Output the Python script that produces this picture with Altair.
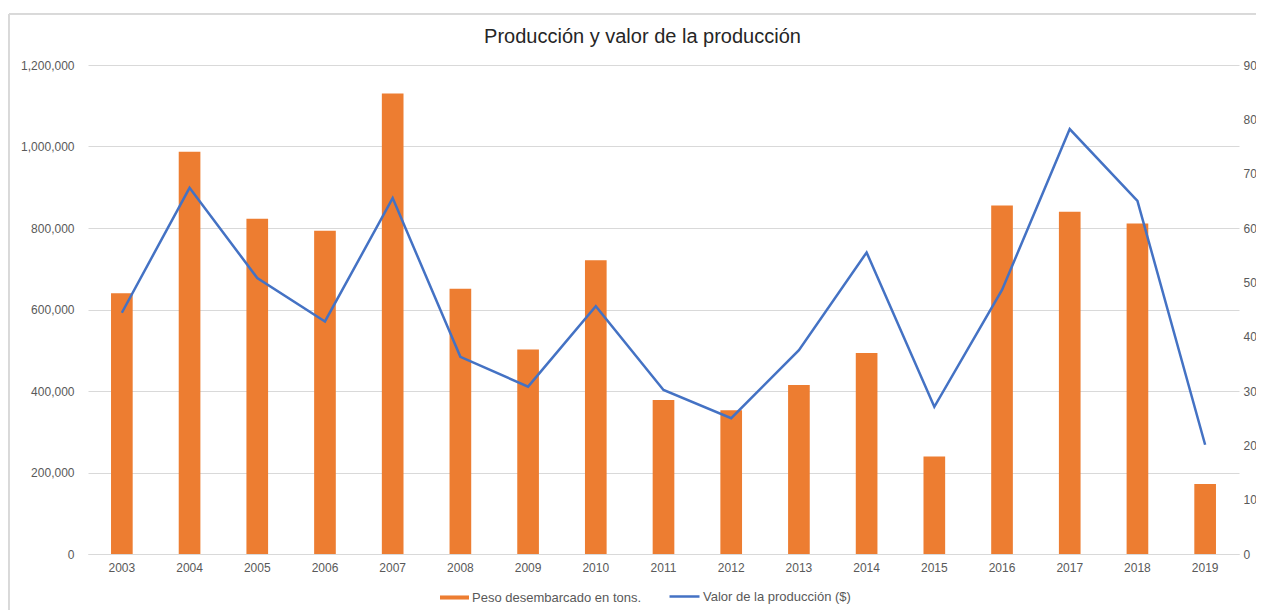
import altair as alt
import pandas as pd

years = [str(y) for y in range(2003, 2020)]
peso = [640000, 987000, 823000, 793000, 1130000, 651000, 502000, 721000, 378000,
        353000, 415000, 493000, 239000, 855000, 840000, 811000, 172000]
valor = [44.4, 67.4, 50.8, 42.8, 65.5, 36.3, 30.8, 45.6, 30.2,
         25.0, 37.5, 55.5, 27.1, 48.6, 78.2, 65.0, 20.1]

SERIE_BAR = "Peso desembarcado en tons."
SERIE_LINE = "Valor de la producción ($)"

df = pd.DataFrame({"year": years, "peso": peso, "valor": valor,
                   "s1": SERIE_BAR, "s2": SERIE_LINE})

FONT = "Liberation Sans"
LABEL_COLOR = "#595959"
GRID = "#D9D9D9"

xenc = alt.X("year:N", title=None,
             scale=alt.Scale(paddingInner=0.68, paddingOuter=0.34),
             axis=alt.Axis(labelAngle=0, ticks=False, domain=True, domainColor=GRID,
                           labelPadding=8, labelFontSize=12, labelColor=LABEL_COLOR,
                           labelFont=FONT, grid=False))

base = alt.Chart(df)

bars = base.mark_bar(color="#ED7D31").encode(
    x=xenc,
    y=alt.Y("peso:Q", title=None,
            scale=alt.Scale(domain=[0, 1200000], nice=False),
            axis=alt.Axis(orient="left", values=[0, 200000, 400000, 600000, 800000, 1000000, 1200000],
                          format=",.0f", ticks=False, domain=False, gridColor=GRID,
                          labelPadding=14, labelFontSize=12, labelColor=LABEL_COLOR,
                          labelFont=FONT)),
    fill=alt.Fill("s1:N", scale=alt.Scale(domain=[SERIE_BAR], range=["#ED7D31"]),
                  legend=alt.Legend(title=None, orient="none", legendX=352, legendY=518,
                                    padding=0, labelLimit=400,
                                    symbolType="M-1,-0.14H1V0.14H-1Z", symbolSize=841,
                                    symbolStrokeWidth=0, labelFont=FONT, labelFontSize=13,
                                    labelColor=LABEL_COLOR, labelOffset=3)),
)

line = base.mark_line(color="#4472C4", strokeWidth=2.5).encode(
    x=xenc,
    y=alt.Y("valor:Q", title=None,
            scale=alt.Scale(domain=[0, 90], nice=False),
            axis=alt.Axis(orient="right", values=list(range(0, 91, 10)),
                          ticks=False, domain=False, grid=False,
                          labelPadding=4, labelFontSize=12, labelColor=LABEL_COLOR,
                          labelFont=FONT)),
    stroke=alt.Stroke("s2:N", scale=alt.Scale(domain=[SERIE_LINE], range=["#4472C4"]),
                      legend=alt.Legend(title=None, orient="none", legendX=580, legendY=515,
                                        padding=0, labelLimit=400,
                                        symbolType="stroke", symbolSize=900,
                                        symbolStrokeWidth=2.5, labelFont=FONT,
                                        labelFontSize=13, labelColor=LABEL_COLOR,
                                        labelOffset=2)),
)

# light chart-area border (top and left edges)
border_top = alt.Chart(df).mark_rule(color=GRID, strokeWidth=1).encode(
    x=alt.value(-79), x2=alt.value(1170), y=alt.value(-51))
border_left = alt.Chart(df).mark_rule(color=GRID, strokeWidth=1).encode(
    x=alt.value(-79), y=alt.value(-51), y2=alt.value(560))

chart = alt.layer(border_top, border_left, bars, line).resolve_scale(
    y="independent", fill="independent", stroke="independent"
).properties(
    width=1151,
    height=489,
    title=alt.TitleParams("Producción y valor de la producción", anchor="middle",
                          font=FONT, fontSize=20, fontWeight="normal", color="#262626",
                          offset=-33, dx=-21),
    autosize=alt.AutoSizeParams(type="none"),
    padding={"left": 80, "top": 57, "right": 17, "bottom": 56},
).configure_view(stroke=None)

chart.save("out.html", embed_options={"renderer": "svg", "actions": False})
